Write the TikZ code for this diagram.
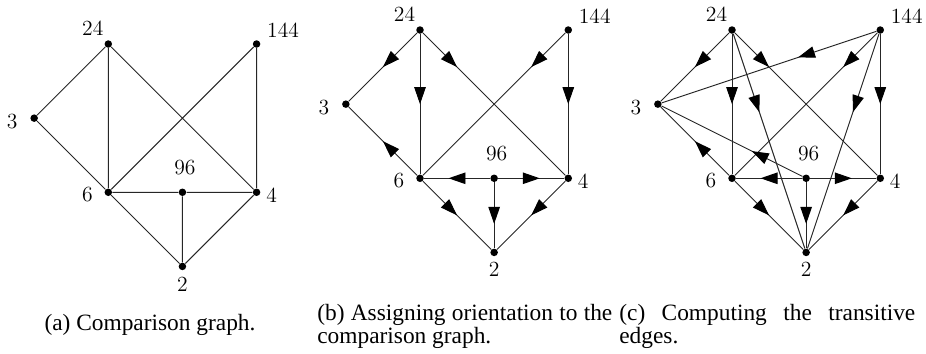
\documentclass[tikz,border=0pt]{standalone}
\usepackage{fontspec}
\usepackage{tikz}
\usetikzlibrary{arrows.meta, positioning, decorations.markings}
\newfontfamily\capfont{Liberation Serif}

\begin{document}
\begin{tikzpicture}[x=0.02cm,y=-0.02cm,node distance=1.483cm,on grid,
  % vertices: dot plus its number, shifted by hand
  dot/.style={circle,fill=black,inner sep=0pt,minimum size=0.15cm},
  lbl/.style={font=\fontsize{12.3}{14}\selectfont,inner sep=0pt},
  v/.style n args={3}{dot,label={[lbl,shift={(#1,#2)}]center:#3}},
  ln/.style={draw=black!85,line width=0.55pt},
  arr/.style={ln,postaction={decorate},decoration={markings,
    mark=at position #1 with {\arrow{Triangle[length=0.34cm,width=0.23cm,color=black]}}}},
  captext/.style={font=\capfont\fontsize{13.3}{13.3}\selectfont,inner sep=0pt}]
  \useasboundingbox (0,0) rectangle (926,353);

  % (a) comparison graph
  \node[v={-15.5}{-15.5}{24}](a24) at (108.3,44){};
  \node[v={26.5}{-14}{144},right=2.966cm of a24](a144){};
  \node[v={-22}{3}{3},below left=1.483cm and 1.483cm of a24](a3){};
  \node[v={-21}{2.5}{6},below=2.966cm of a24](a6){};
  \node[v={2.5}{-24.5}{96},right=of a6](a96){};
  \node[v={15}{3}{4},right=of a96](a4){};
  \node[v={0}{18}{2},below=of a96](a2){};
  \draw[ln](a24)--(a3) (a24)--(a6) (a24)--(a4) (a144)--(a6) (a144)--(a4)
    (a3)--(a6) (a6)--(a96) (a96)--(a4) (a6)--(a2) (a96)--(a2) (a4)--(a2);

  % (b) orientation
  \node[v={-15.5}{-15.5}{24}](b24) at (420,30){};
  \node[v={26.5}{-14}{144},right=2.966cm of b24](b144){};
  \node[v={-22}{3}{3},below left=1.483cm and 1.483cm of b24](b3){};
  \node[v={-21}{2.5}{6},below=2.966cm of b24](b6){};
  \node[v={2.5}{-24.5}{96},right=of b6](b96){};
  \node[v={15}{3}{4},right=of b96](b4){};
  \node[v={0}{17}{2},below=of b96](b2){};
  \path (b24) edge[arr=0.5](b3) edge[arr=0.5](b6) edge[arr=0.24](b4)
    (b144) edge[arr=0.24](b6) edge[arr=0.5](b4)
    (b6) edge[arr=0.5](b3) edge[arr=0.5](b2)
    (b96) edge[arr=0.63](b6) edge[arr=0.63](b4) edge[arr=0.63](b2)
    (b4) edge[arr=0.5](b2);

  % (c) transitive edges
  \node[v={-15.5}{-15.5}{24}](c24) at (732,30){};
  \node[v={26.5}{-14}{144},right=2.966cm of c24](c144){};
  \node[v={-22}{3}{3},below left=1.483cm and 1.483cm of c24](c3){};
  \node[v={-21}{2.5}{6},below=2.966cm of c24](c6){};
  \node[v={2.5}{-24.5}{96},right=of c6](c96){};
  \node[v={15}{3}{4},right=of c96](c4){};
  \node[v={0}{17}{2},below=of c96](c2){};
  \path (c24) edge[arr=0.5](c3) edge[arr=0.5](c6) edge[arr=0.24](c4) edge[arr=0.365](c2)
    (c144) edge[arr=0.365](c3) edge[arr=0.24](c6) edge[arr=0.365](c2) edge[arr=0.5](c4)
    (c6) edge[arr=0.5](c3) edge[arr=0.5](c2)
    (c96) edge[arr=0.36](c3) edge[arr=0.63](c6) edge[arr=0.63](c4) edge[arr=0.63](c2)
    (c4) edge[arr=0.5](c2);

  % captions
  \node[captext,anchor=base](capa) at (150,330){(a) Comparison graph.};
  \node[captext,anchor=base west,text width=5.9cm,align=justify](capb) at (317,320)
    {\baselineskip=13.3pt (b) Assigning orientation to the comparison graph.};
  \node[captext,anchor=base west,text width=5.92cm,align=justify](capc) at (619,320)
    {\baselineskip=13.3pt\tolerance=9999 (c) Computing the transitive edges.};
\end{tikzpicture}
\end{document}
